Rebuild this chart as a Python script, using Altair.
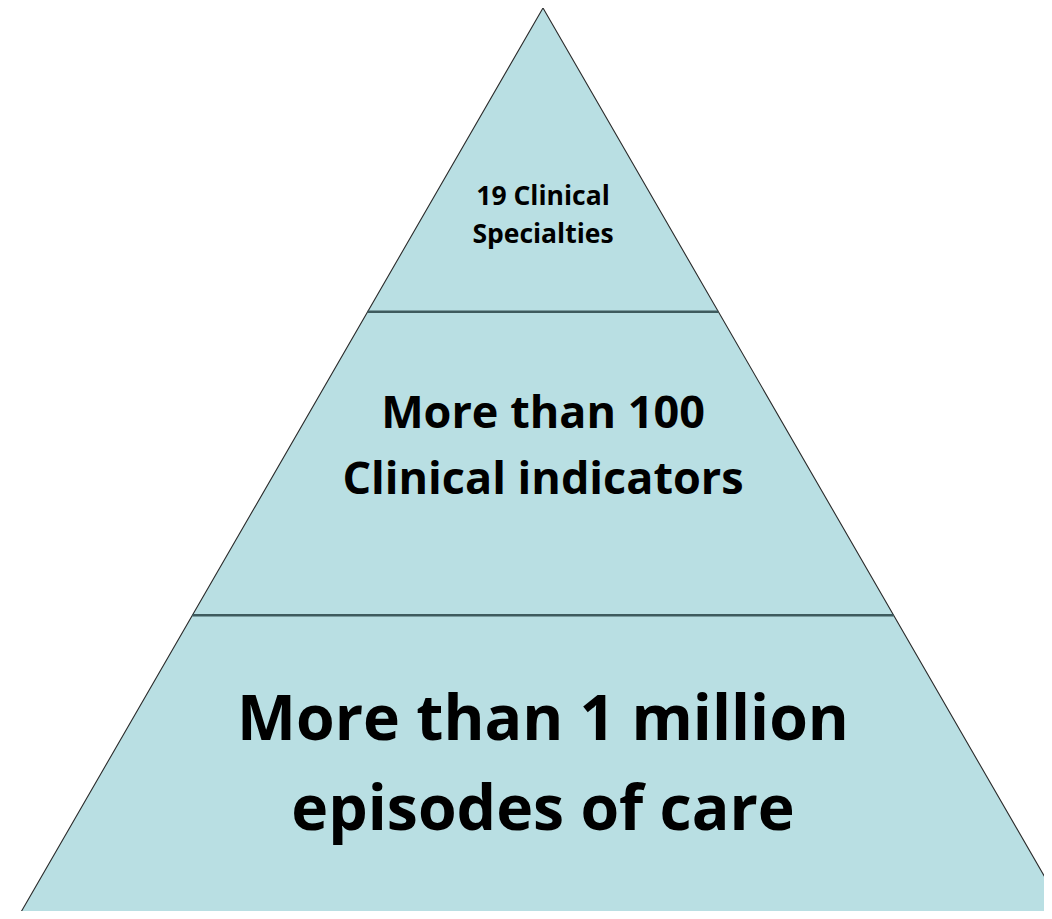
import altair as alt
import pandas as pd

# Tiers of the pyramid, bottom to top
tier_labels = [
    "More than 1 million\nepisodes of care",
    "More than 100\nClinical indicators",
    "19 Clinical\nSpecialties",
]
tier_base_levels = [0, 1, 2]
top_level = 3

fill_color = "#B9DFE3"

# Pyramid outline built from the tier levels (half-width shrinks linearly with level)
outline = pd.DataFrame({
    "x": [-1.0, 0.0, 1.0],
    "y": [0, top_level, 0],
    "base": [0, 0, 0],
})
dividers = pd.DataFrame({
    "level": tier_base_levels[1:],
})
dividers["x"] = -(1 - dividers["level"] / top_level)
dividers["x2"] = (1 - dividers["level"] / top_level)

labels = pd.DataFrame({
    "label": tier_labels,
    "tier": [0, 1, 2],
    "mid": [l + 0.5 for l in tier_base_levels],
    "x0": [0, 0, 0],
})

xs = alt.Scale(domain=[-1, 1], range=[9, 1061])
ys = alt.Scale(domain=[0, top_level], range=[911, 0])
noax = None

area = alt.Chart(outline).mark_area(color=fill_color, clip=True).encode(
    x=alt.X("x:Q", scale=xs, axis=noax),
    y=alt.Y("y:Q", scale=ys, axis=noax),
    y2="base:Q",
)
edge = alt.Chart(outline).mark_line(color="#2b2b2b", strokeWidth=1.1, clip=True).encode(
    x=alt.X("x:Q", scale=xs, axis=noax),
    y=alt.Y("y:Q", scale=ys, axis=noax),
)
rules = alt.Chart(dividers).mark_rule(color="#3E5B5E", strokeWidth=2.5).encode(
    x=alt.X("x:Q", scale=xs, axis=noax),
    x2="x2:Q",
    y=alt.Y("level:Q", scale=ys, axis=noax),
)

styles = [
    dict(fontSize=62.5, lineHeight=90, dy=-46),
    dict(fontSize=45, lineHeight=66, dy=-50),
    dict(fontSize=26.5, lineHeight=38, dy=37),
]
texts = []
for i, st in enumerate(styles):
    texts.append(
        alt.Chart(labels).transform_filter(alt.datum.tier == i).mark_text(
            font="Open Sans", fontWeight="bold", color="#000000",
            align="center", baseline="middle", lineBreak="\n", **st
        ).encode(
            x=alt.X("x0:Q", scale=xs, axis=noax),
            y=alt.Y("mid:Q", scale=ys, axis=noax),
            text="label:N",
        )
    )

chart = alt.layer(area, edge, rules, *texts).properties(
    width=1036, height=903,
    autosize=alt.AutoSizeParams(type="none"),
    padding=0,
).configure_view(stroke=None)

chart.save("out.html", embed_options={"renderer": "svg", "actions": False})
